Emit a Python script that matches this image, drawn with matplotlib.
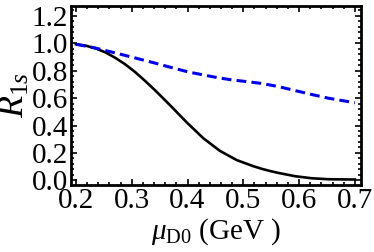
import matplotlib
matplotlib.use("Agg")
import matplotlib.pyplot as plt
from matplotlib.ticker import MultipleLocator

mu_solid = [0.200, 0.217, 0.235, 0.2525, 0.270, 0.288, 0.306, 0.324, 0.342, 0.360,
            0.372, 0.398, 0.428, 0.458, 0.488, 0.518, 0.533, 0.548, 0.563, 0.593,
            0.623, 0.653, 0.700]
r1s_solid = [0.993, 0.983, 0.963, 0.934, 0.895, 0.847, 0.790, 0.725, 0.656, 0.583,
             0.534, 0.425, 0.308, 0.215, 0.148, 0.103, 0.084, 0.068, 0.054, 0.030,
             0.015, 0.008, 0.006]
mu_dashed = [0.200, 0.235, 0.270, 0.306, 0.342, 0.372, 0.402, 0.4527, 0.479, 0.509,
             0.533, 0.563, 0.593, 0.623, 0.653, 0.700]
r1s_dashed = [0.993, 0.965, 0.930, 0.893, 0.855, 0.822, 0.790, 0.750, 0.733, 0.719,
              0.707, 0.684, 0.655, 0.626, 0.599, 0.566]
xticks = [0.2, 0.3, 0.4, 0.5, 0.6, 0.7]
yticks = [0.0, 0.2, 0.4, 0.6, 0.8, 1.0, 1.2]

plt.rcParams['font.family'] = ['Liberation Serif', 'DejaVu Serif']
plt.rcParams['mathtext.fontset'] = 'custom'
plt.rcParams['mathtext.rm'] = 'Liberation Serif'
plt.rcParams['mathtext.it'] = 'Liberation Serif:italic'

fig = plt.figure(figsize=(3.74, 2.52), dpi=100)
ax = fig.add_axes([71/374, 1-185/252, 290/374, 179/252])

ax.plot(mu_solid, r1s_solid, color='black', lw=1.9)
ax.plot(mu_dashed, r1s_dashed, color='#0000ee', lw=2.2, dashes=(3.2, 1.7))

ax.set_xlim(0.191, 0.711)
ax.set_ylim(-0.034, 1.272)
ax.set_xticks(xticks)
ax.set_yticks(yticks)
ax.set_xticklabels(["%.1f" % t for t in xticks])
ax.set_yticklabels(["%.1f" % t for t in yticks])
ax.xaxis.set_minor_locator(MultipleLocator(0.02))
ax.yaxis.set_minor_locator(MultipleLocator(0.04))
ax.tick_params(which='both', direction='in', top=True, right=True, width=1.2,
               labelsize=21, pad=2)
ax.tick_params(which='major', length=4)
ax.tick_params(which='minor', length=2)
for s in ax.spines.values():
    s.set_linewidth(2)

ax.set_xlabel(r"$\mu_{\rm D0}$ (GeV )", fontsize=21, labelpad=2)
ax.set_ylabel(r"$R_{1s}$", fontsize=26, labelpad=0)

fig.savefig("out.png", dpi=100)
